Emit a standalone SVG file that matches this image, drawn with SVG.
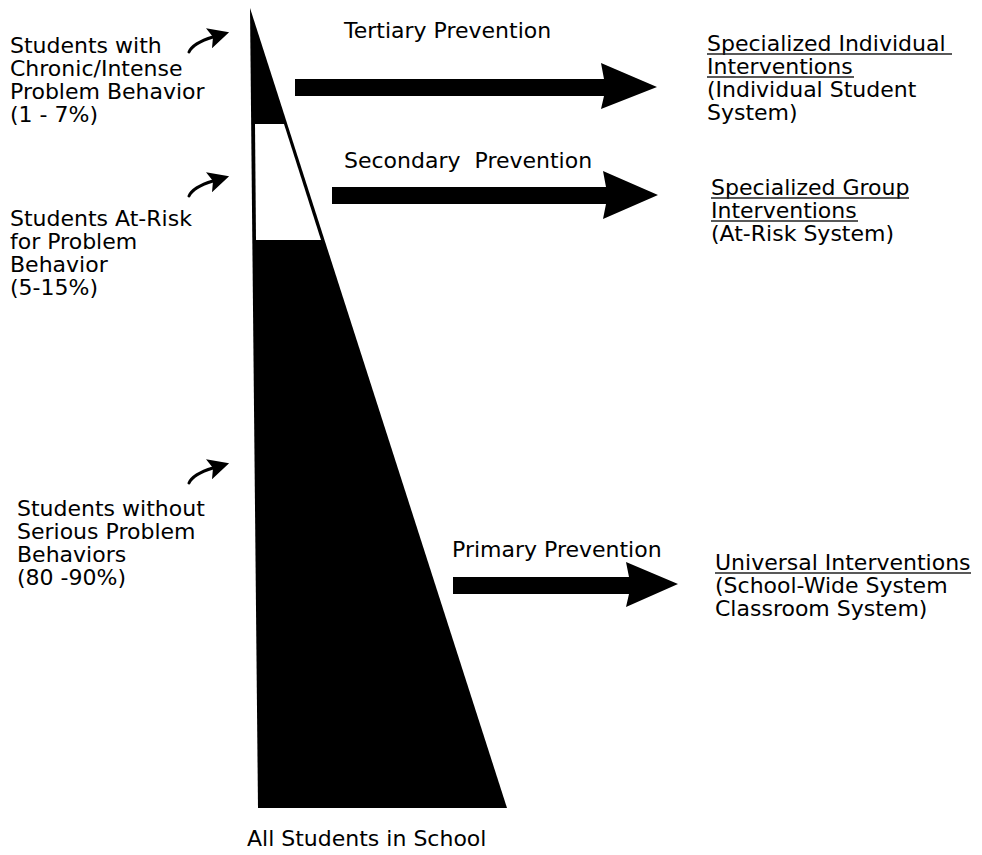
<svg xmlns="http://www.w3.org/2000/svg" width="982" height="855" viewBox="0 0 982 855">
<defs>
<style>
text{font-family:"DejaVu Sans","Verdana",sans-serif;font-size:22px;fill:#000;white-space:pre}
.ul{stroke:#222;stroke-width:1.5;fill:none}
.curve{stroke:#000;stroke-width:3;fill:none;stroke-linecap:round}
.big{fill:#000}
</style>
<marker id="ah" viewBox="0 0 10 10" refX="2" refY="5" markerWidth="7" markerHeight="7" markerUnits="strokeWidth" orient="auto">
<path d="M0,0 L10,5 L0,10 L2,5 z" fill="#000"/>
</marker>
</defs>
<rect width="982" height="855" fill="#fff"/>

<g id="pyramid">
<polygon points="250,8 258,808 507,808" fill="#000"/>
<polygon points="255,124 284,124 321,240 256,240" fill="#fff"/>
</g>

<g id="label-tertiary-students">
<text x="10" y="53">Students with</text>
<text x="10" y="76">Chronic/Intense</text>
<text x="10" y="99">Problem Behavior</text>
<text x="10" y="122">(1 - 7%)</text>
</g>
<g id="label-secondary-students">
<text x="10" y="226">Students At-Risk</text>
<text x="10" y="249">for Problem</text>
<text x="10" y="272">Behavior</text>
<text x="10" y="295">(5-15%)</text>
</g>
<g id="label-primary-students">
<text x="17" y="516">Students without</text>
<text x="17" y="539">Serious Problem</text>
<text x="17" y="562">Behaviors</text>
<text x="17" y="585">(80 -90%)</text>
</g>
<g id="label-all">
<text x="247" y="846">All Students in School</text>
</g>

<g id="label-tertiary">
<text x="344" y="38">Tertiary Prevention</text>
</g>
<g id="label-secondary">
<text x="344" y="168" xml:space="preserve">Secondary  Prevention</text>
</g>
<g id="label-primary">
<text x="452" y="557">Primary Prevention</text>
</g>

<g id="node-individual">
<text x="707" y="51">Specialized Individual</text>
<text x="707" y="74">Interventions</text>
<text x="707" y="97">(Individual Student</text>
<text x="707" y="120">System)</text>
<line class="ul" x1="707" y1="54" x2="952" y2="54"/>
<line class="ul" x1="707" y1="77" x2="854" y2="77"/>
</g>
<g id="node-group">
<text x="711" y="195">Specialized Group</text>
<text x="711" y="218">Interventions</text>
<text x="711" y="241">(At-Risk System)</text>
<line class="ul" x1="711" y1="198" x2="909" y2="198"/>
<line class="ul" x1="711" y1="221" x2="858" y2="221"/>
</g>
<g id="node-universal">
<text x="715" y="570">Universal Interventions</text>
<text x="715" y="593">(School-Wide System</text>
<text x="715" y="616">Classroom System)</text>
<line class="ul" x1="715" y1="573" x2="971" y2="573"/>
</g>

<g id="connectors">
<polygon class="big" points="295,79 604,79 601,63 657,87 601,109 604,96 295,96"/>
<polygon class="big" points="332,187 606,187 603,171 658,195 603,219 606,204 332,204"/>
<polygon class="big" points="453,577 629,577 626,562 678,584 626,607 629,594 453,594"/>
<path class="curve" d="M189,52 Q193,43 213,37" marker-end="url(#ah)"/>
<path class="curve" d="M189,196 Q193,187 213,181" marker-end="url(#ah)"/>
<path class="curve" d="M189,483 Q193,474 213,468" marker-end="url(#ah)"/>
</g>
</svg>
